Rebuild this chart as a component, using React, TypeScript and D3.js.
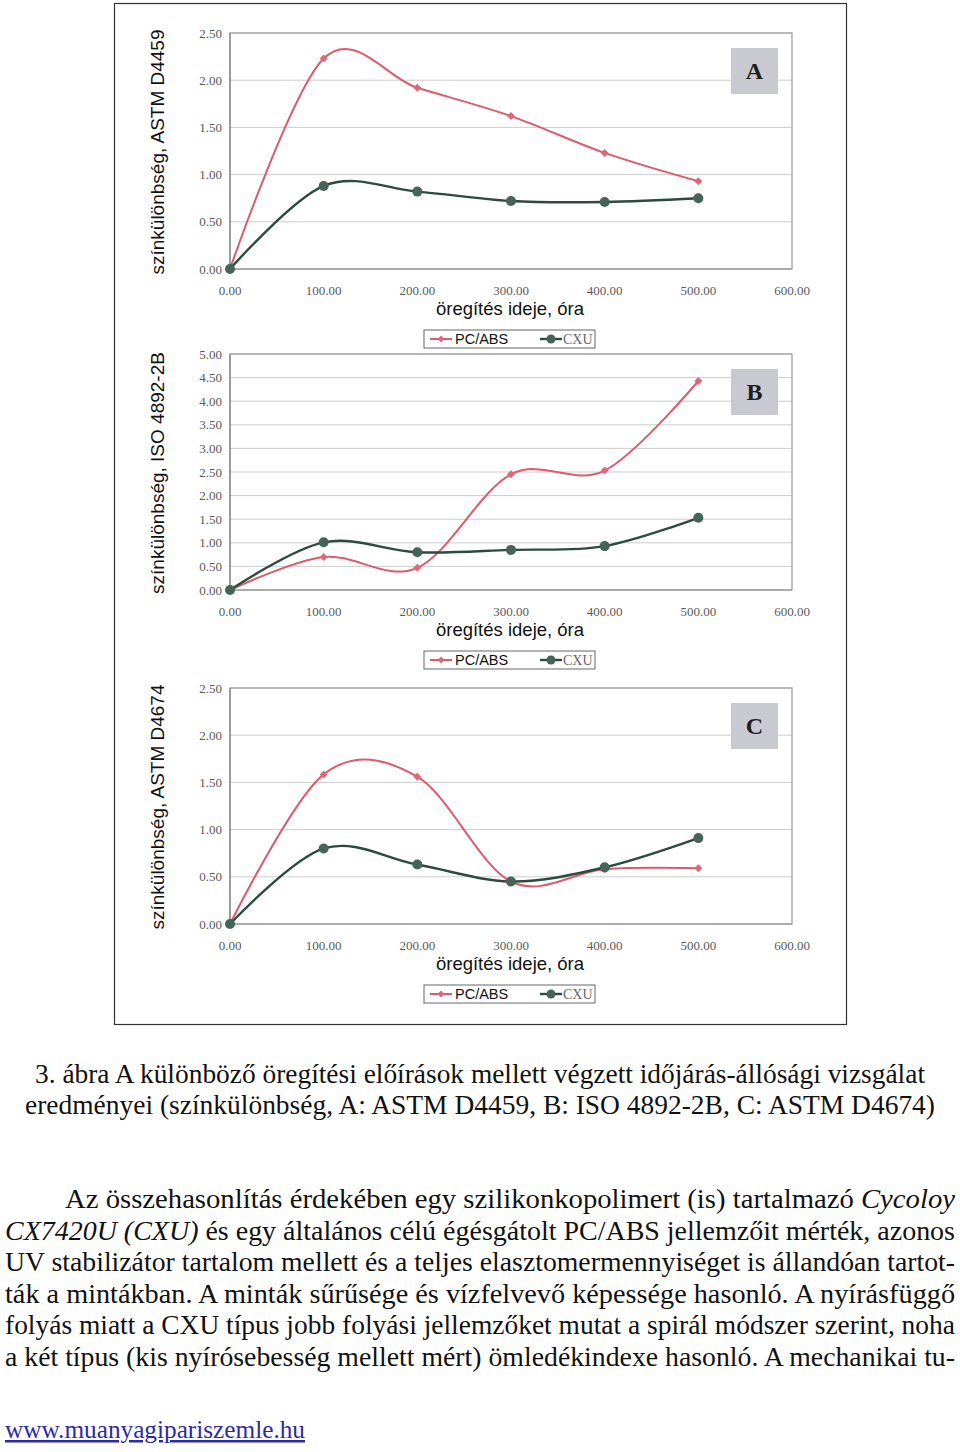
import React from "react";
import * as d3 from "d3";

const hours = [0, 100, 200, 300, 400, 500];
const xTicks = [0, 100, 200, 300, 400, 500, 600];
const seriesNames = ["PC/ABS", "CXU"];

const pcAbsA = [0, 2.23, 1.92, 1.62, 1.23, 0.93];
const cxuA = [0, 0.88, 0.82, 0.72, 0.71, 0.75];
const yTicksA = [0, 0.5, 1, 1.5, 2, 2.5];

const pcAbsB = [0, 0.7, 0.47, 2.45, 2.53, 4.43];
const cxuB = [0, 1.01, 0.8, 0.85, 0.93, 1.53];
const yTicksB = [0, 0.5, 1, 1.5, 2, 2.5, 3, 3.5, 4, 4.5, 5];

const pcAbsC = [0, 1.585, 1.56, 0.45, 0.58, 0.59];
const cxuC = [0, 0.8, 0.63, 0.45, 0.6, 0.91];
const yTicksC = [0, 0.5, 1, 1.5, 2, 2.5];

const yTitles = [
  "színkülönbség, ASTM D4459",
  "színkülönbség, ISO 4892-2B",
  "színkülönbség, ASTM D4674",
];
const panelLetters = ["A", "B", "C"];
const xTitle = "öregítés ideje, óra";

const captionLines = [
  "3. ábra A különböző öregítési előírások mellett végzett időjárás-állósági vizsgálat",
  "eredményei (színkülönbség, A: ASTM D4459, B: ISO 4892-2B, C: ASTM D4674)",
];

const RED = "#dc5b6c";
const RED_M = "#e0677a";
const GREEN = "#2c4a3d";
const GREEN_M = "#436457";

const PL = 230;
const PR = 792;
const PH = 236;

const SERIF = "'Liberation Serif', 'Times New Roman', Times, serif";
const SANS = "'Liberation Sans', Arial, Helvetica, sans-serif";

function Diamond({ x, y, s = 4 }: { x: number; y: number; s?: number }) {
  return (
    <path
      d={`M${x},${y - s}L${x + s},${y}L${x},${y + s}L${x - s},${y}Z`}
      fill={RED_M}
    />
  );
}

function Panel({
  top,
  pc,
  cx,
  yTicks,
  yTitle,
  letter,
}: {
  top: number;
  pc: number[];
  cx: number[];
  yTicks: number[];
  yTitle: string;
  letter: string;
}) {
  const yMax = yTicks[yTicks.length - 1];
  const x = d3.scaleLinear().domain([0, 600]).range([PL, PR]);
  const y = d3.scaleLinear().domain([0, yMax]).range([top + PH, top]);
  const line = d3
    .line<number>()
    .x((_, i) => x(hours[i]))
    .y((d) => y(d))
    .curve(d3.curveCardinal.tension(0));
  const bottom = top + PH;
  const lgTop = bottom + 61;
  return (
    <g>
      {yTicks.map((t) => (
        <line
          key={"g" + t}
          x1={PL}
          x2={PR}
          y1={y(t)}
          y2={y(t)}
          stroke={t === 0 ? "#8a8a8a" : "#cdcdcd"}
          strokeWidth={1}
        />
      ))}
      <rect
        x={PL}
        y={top}
        width={PR - PL}
        height={PH}
        fill="none"
        stroke="#9a9a9a"
        strokeWidth={1.2}
      />
      <line x1={PL} x2={PL} y1={top} y2={bottom} stroke="#8a8a8a" strokeWidth={1.4} />
      {yTicks.map((t) => (
        <text
          key={"yl" + t}
          x={PL - 8}
          y={y(t)}
          dy="0.35em"
          textAnchor="end"
          fontFamily={SERIF}
          fontSize={13}
          fill="#5a5a5a"
        >
          {t.toFixed(2)}
        </text>
      ))}
      {xTicks.map((t) => (
        <text
          key={"xl" + t}
          x={x(t)}
          y={bottom + 21}
          dy="0.35em"
          textAnchor="middle"
          fontFamily={SERIF}
          fontSize={13}
          fill="#5a5a5a"
        >
          {t.toFixed(2)}
        </text>
      ))}
      <text
        x={510}
        y={bottom + 40}
        dy="0.35em"
        textAnchor="middle"
        fontFamily={SANS}
        fontSize={18.5}
        fill="#111"
      >
        {xTitle}
      </text>
      <text
        transform={`translate(157,${top + PH / 2 + 1}) rotate(-90)`}
        dy="0.35em"
        textAnchor="middle"
        fontFamily={SANS}
        fontSize={19}
        fill="#111"
      >
        {yTitle}
      </text>
      <rect x={731} y={top + 15} width={47} height={46} fill="#c9c9d1" />
      <text
        x={754.5}
        y={top + 38}
        dy="0.35em"
        textAnchor="middle"
        fontFamily={SERIF}
        fontWeight="bold"
        fontSize={24}
        fill="#1e1e1e"
      >
        {letter}
      </text>
      <path d={line(pc) || ""} fill="none" stroke={RED} strokeWidth={2} />
      <path d={line(cx) || ""} fill="none" stroke={GREEN} strokeWidth={2.4} />
      {pc.map((v, i) => (
        <Diamond key={"pm" + i} x={x(hours[i])} y={y(v)} />
      ))}
      {cx.map((v, i) => (
        <circle key={"cm" + i} cx={x(hours[i])} cy={y(v)} r={5} fill={GREEN_M} />
      ))}
      <rect
        x={424}
        y={lgTop}
        width={171}
        height={18}
        fill="#fff"
        stroke="#666"
        strokeWidth={1}
      />
      <line x1={430} x2={452} y1={lgTop + 9} y2={lgTop + 9} stroke={RED} strokeWidth={2} />
      <Diamond x={441} y={lgTop + 9} s={3.5} />
      <text
        x={455}
        y={lgTop + 9}
        dy="0.35em"
        fontFamily={SANS}
        fontSize={14.5}
        fill="#111"
      >
        {seriesNames[0]}
      </text>
      <line x1={540} x2={562} y1={lgTop + 9} y2={lgTop + 9} stroke={GREEN} strokeWidth={2.4} />
      <circle cx={551} cy={lgTop + 9} r={4.5} fill={GREEN_M} />
      <text
        x={563}
        y={lgTop + 9}
        dy="0.35em"
        fontFamily={SERIF}
        fontSize={14}
        fill="#666"
      >
        {seriesNames[1]}
      </text>
    </g>
  );
}

export default function App() {
  const fs = 27;
  return (
    <svg
      width={960}
      height={1452}
      style={{ position: "absolute", left: 0, top: 0, background: "#fff" }}
    >
      <rect x={0} y={0} width={960} height={1452} fill="#fff" />
      <rect x={114.5} y={3.5} width={732} height={1021} fill="none" stroke="#333" strokeWidth={1.2} />
      <Panel top={33} pc={pcAbsA} cx={cxuA} yTicks={yTicksA} yTitle={yTitles[0]} letter={panelLetters[0]} />
      <Panel top={354} pc={pcAbsB} cx={cxuB} yTicks={yTicksB} yTitle={yTitles[1]} letter={panelLetters[1]} />
      <Panel top={688} pc={pcAbsC} cx={cxuC} yTicks={yTicksC} yTitle={yTitles[2]} letter={panelLetters[2]} />

      <text x={35} y={1083} fontFamily={SERIF} fontSize={fs} fill="#111" textLength={890} lengthAdjust="spacingAndGlyphs">
        {captionLines[0]}
      </text>
      <text x={25} y={1114} fontFamily={SERIF} fontSize={fs} fill="#111" textLength={910} lengthAdjust="spacingAndGlyphs">
        {captionLines[1]}
      </text>

      <text x={65} y={1208} fontFamily={SERIF} fontSize={fs} fill="#111" textLength={890} lengthAdjust="spacingAndGlyphs">
        Az összehasonlítás érdekében egy szilikonkopolimert (is) tartalmazó <tspan fontStyle="italic">Cycoloy</tspan>
      </text>
      <text x={5} y={1240} fontFamily={SERIF} fontSize={fs} fill="#111" textLength={950} lengthAdjust="spacingAndGlyphs">
        <tspan fontStyle="italic">CX7420U (CXU)</tspan> és egy általános célú égésgátolt PC/ABS jellemzőit mérték, azonos
      </text>
      <text x={5} y={1271} fontFamily={SERIF} fontSize={fs} fill="#111" textLength={950} lengthAdjust="spacingAndGlyphs">
        UV stabilizátor tartalom mellett és a teljes elasztomermennyiséget is állandóan tartot-
      </text>
      <text x={5} y={1303} fontFamily={SERIF} fontSize={fs} fill="#111" textLength={950} lengthAdjust="spacingAndGlyphs">
        ták a mintákban. A minták sűrűsége és vízfelvevő képessége hasonló. A nyírásfüggő
      </text>
      <text x={5} y={1334} fontFamily={SERIF} fontSize={fs} fill="#111" textLength={950} lengthAdjust="spacingAndGlyphs">
        folyás miatt a CXU típus jobb folyási jellemzőket mutat a spirál módszer szerint, noha
      </text>
      <text x={5} y={1366} fontFamily={SERIF} fontSize={fs} fill="#111" textLength={950} lengthAdjust="spacingAndGlyphs">
        a két típus (kis nyírósebesség mellett mért) ömledékindexe hasonló. A mechanikai tu-
      </text>

      <text x={5} y={1438} fontFamily={SERIF} fontSize={25} fill="#2b2ba8" textLength={300} lengthAdjust="spacingAndGlyphs" textDecoration="underline">
        www.muanyagipariszemle.hu
      </text>
    </svg>
  );
}
